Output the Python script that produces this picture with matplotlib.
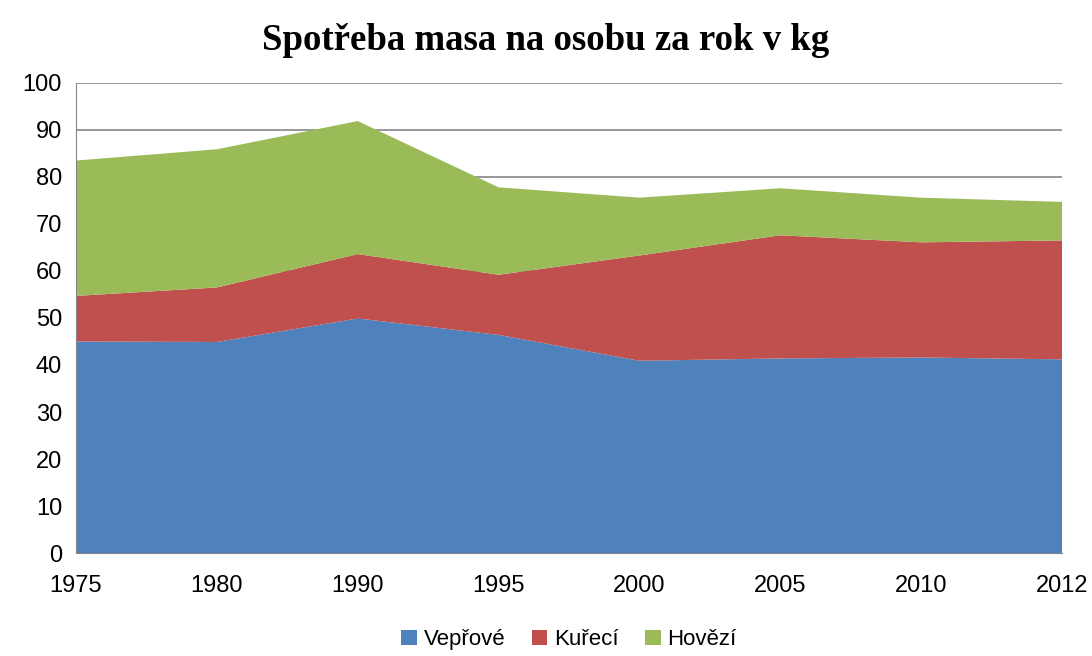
import numpy as np
import matplotlib.pyplot as plt

years = ["1975", "1980", "1990", "1995", "2000", "2005", "2010", "2012"]
veprove = [45.0, 44.9, 49.9, 46.4, 40.9, 41.4, 41.6, 41.2]
kureci = [9.7, 11.6, 13.7, 12.8, 22.4, 26.2, 24.5, 25.3]
hovezi = [28.8, 29.4, 28.3, 18.6, 12.3, 10.0, 9.5, 8.2]

plt.rcParams['font.family'] = ['Liberation Sans Narrow', 'Liberation Sans', 'DejaVu Sans']

fig = plt.figure(figsize=(10.92, 6.56), dpi=100)
ax = fig.add_axes([0.0696, 0.157, 0.903, 0.7165])

x = np.arange(len(years))
colors = ["#4F81BD", "#C0504D", "#9BBB59"]
ax.stackplot(x, veprove, kureci, hovezi, colors=colors,
             labels=["Vepřové", "Kuřecí", "Hovězí"], linewidth=0)

ax.set_xlim(0, len(years) - 1)
ax.set_ylim(0, 100)
ax.set_yticks(range(0, 101, 10))
ax.set_xticks(x)
ax.set_xticklabels(years)
ax.tick_params(axis='both', labelsize=17, length=0)
ax.tick_params(axis='x', pad=16)
ax.tick_params(axis='y', pad=10)
ax.grid(axis='y', color='#868686', linewidth=1.2)
ax.set_axisbelow(True)
for s in ["top", "right"]:
    ax.spines[s].set_visible(False)
ax.spines["left"].set_color('#868686')
ax.spines["bottom"].set_color('#868686')

fig.suptitle("Spotřeba masa na osobu za rok v kg", y=0.965, fontsize=26.5,
             fontweight='bold', family='Liberation Serif')

ax.legend(loc='upper center', bbox_to_anchor=(0.5, -0.143), ncol=3, frameon=False,
          fontsize=16, handlelength=0.7, handleheight=0.7, handletextpad=0.3,
          columnspacing=1.2, borderaxespad=0)

plt.savefig("out.png", dpi=100)
